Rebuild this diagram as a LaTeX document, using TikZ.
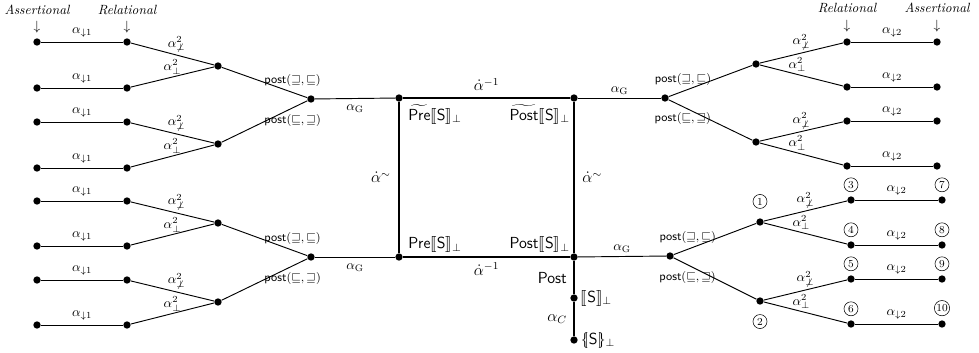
\documentclass[tikz,border=0pt]{standalone}
\usepackage{amsmath,amssymb,stmaryrd}
\usetikzlibrary{calc}
\newcommand{\npp}{\not\perp}
\newcommand{\sem}{\llbracket\mathsf{S}\rrbracket_{\perp}}
\begin{document}
\begin{tikzpicture}[x=0.75pt,y=-0.75pt,
  dot/.style={circle,fill,inner sep=0pt,minimum size=5.5pt},
  edge/.style={line width=0.7pt},
  sq/.style={line width=2pt},
  lab/.style={font=\normalsize,inner sep=1.5pt},
  plab/.style={font=\small,inner sep=2pt},
  big/.style={font=\large},
  circnum/.style={circle,draw,inner sep=0.5pt,minimum size=10.5pt,font=\footnotesize},
  hdr/.style={font=\itshape,inner sep=0pt}]
\useasboundingbox (0,0) rectangle (979,353);
% ---------- left top tree
\foreach \i/\y in {1/42,2/88,3/122,4/168}{
  \node[dot] (LA\i) at (37,\y) {};
  \node[dot] (LR\i) at (127,\y) {};
}
\node[dot] (LM1) at (218,66) {};
\node[dot] (LM2) at (218,144) {};
\node[dot] (LT) at (311,99) {};
% ---------- left bottom tree
\foreach \i/\y in {5/201,6/246,7/280,8/325}{
  \node[dot] (LA\i) at (37,\y) {};
  \node[dot] (LR\i) at (127,\y) {};
}
\node[dot] (LM3) at (218,223) {};
\node[dot] (LM4) at (218,302) {};
\node[dot] (LB) at (311,257) {};
\foreach \i in {1,...,8}{
  \draw[edge] (LA\i) -- node[lab,above,yshift=2pt]{$\alpha_{\downarrow 1}$} (LR\i);
}
\foreach \a/\b/\m in {1/2/LM1,3/4/LM2,5/6/LM3,7/8/LM4}{
  \draw[edge] (LR\a) -- node[lab,above,pos=0.55]{$\alpha^{2}_{\npp}$} (\m);
  \draw[edge] (LR\b) -- node[lab,above,pos=0.5]{$\alpha^{2}_{\perp}$} (\m);
}
\draw[edge] (LM1) -- node[plab,above,pos=0.75,xshift=5pt]{$\mathsf{post}(\sqsupseteq,\sqsubseteq)$} (LT);
\draw[edge] (LM2) -- node[plab,below,pos=0.75,xshift=5pt]{$\mathsf{post}(\sqsubseteq,\sqsupseteq)$} (LT);
\draw[edge] (LM3) -- node[plab,above,pos=0.75,xshift=5pt]{$\mathsf{post}(\sqsupseteq,\sqsubseteq)$} (LB);
\draw[edge] (LM4) -- node[plab,below,pos=0.75,xshift=5pt]{$\mathsf{post}(\sqsubseteq,\sqsupseteq)$} (LB);
% headers left
\node[hdr] (hA) at (37,10) {Assertional};
\node[inner sep=0pt] (hAa) at (37,27) {$\downarrow$};
\node[hdr] (hR) at (127,10) {Relational};
\node[inner sep=0pt] (hRa) at (127,27) {$\downarrow$};
% ---------- square
\node[dot] (TL) at (399,98) {};
\node[dot] (TR) at (574,98) {};
\node[dot] (BL) at (399,257) {};
\node[dot] (BR) at (574,257) {};
\draw[sq] (TL) -- node[big,above=1pt]{$\dot{\alpha}^{-1}$} (TR);
\draw[sq] (BL) -- node[big,below=0pt]{$\dot{\alpha}^{-1}$} (BR);
\draw[sq] (TL) -- node[big,left=2pt]{$\dot{\alpha}^{\sim}$} (BL);
\draw[sq] (TR) -- node[big,right=2pt]{$\dot{\alpha}^{\sim}$} (BR);
\node[big,anchor=north west,inner sep=0pt] (tPre) at (408,104) {$\widetilde{\mathsf{Pre}}\sem$};
\node[big,anchor=north east,inner sep=0pt] (tPost) at (570,104) {$\widetilde{\mathsf{Post}}\sem$};
\node[big,anchor=south west,inner sep=0pt] (Pre) at (408,253) {$\mathsf{Pre}\sem$};
\node[big,anchor=south east,inner sep=0pt] (Post) at (570,253) {$\mathsf{Post}\sem$};
\draw[edge] (LT) -- node[lab,below=3pt]{$\alpha_{\mathrm{G}}$} (TL);
\draw[edge] (LB) -- node[lab,below=3pt]{$\alpha_{\mathrm{G}}$} (BL);
% post drop
\node[dot] (P1) at (574,298) {};
\node[dot] (P2) at (574,340) {};
\draw[sq] (BR) -- node[big,left=1pt]{$\mathsf{Post}$} (P1);
\draw[sq] (P1) -- node[big,left=1pt]{$\alpha_C$} (P2);
\node[big,anchor=west,inner sep=2pt] (P1l) at (P1.east) {$\sem$};
\node[big,anchor=west,inner sep=2pt] (P2l) at (P2.east) {$\{\mkern-5mu|\mathsf{S}|\mkern-5mu\}_{\perp}$};
% ---------- right top tree
\node[dot] (RT) at (665,98) {};
\node[dot] (RM1) at (756,64) {};
\node[dot] (RM2) at (756,142) {};
\foreach \i/\y in {1/42,2/87,3/121,4/166}{
  \node[dot] (RR\i) at (847,\y) {};
  \node[dot] (RA\i) at (937,\y) {};
}
% ---------- right bottom tree
\node[dot] (RB) at (670,256) {};
\node[dot,label={[circnum,label distance=7pt]above:1}] (RM3) at (760,222) {};
\node[dot,label={[circnum,label distance=7pt]below:2}] (RM4) at (760,301) {};
\foreach \i/\y/\n/\m in {5/200/3/7,6/245/4/8,7/279/5/9,8/324/6/10}{
  \node[dot,label={[circnum,label distance=3pt]above:\n}] (RR\i) at (851,\y) {};
  \node[dot,label={[circnum,label distance=3pt]above:\m}] (RA\i) at (942,\y) {};
}
\foreach \i in {1,...,8}{
  \draw[edge] (RR\i) -- node[lab,above,yshift=2pt]{$\alpha_{\downarrow 2}$} (RA\i);
}
\foreach \a/\b/\m in {1/2/RM1,3/4/RM2,5/6/RM3,7/8/RM4}{
  \draw[edge] (\m) -- node[lab,above,pos=0.5]{$\alpha^{2}_{\npp}$} (RR\a);
  \draw[edge] (\m) -- node[lab,above,pos=0.45]{$\alpha^{2}_{\perp}$} (RR\b);
}
\draw[edge] (RT) -- node[plab,above,pos=0.25,xshift=-5pt]{$\mathsf{post}(\sqsupseteq,\sqsubseteq)$} (RM1);
\draw[edge] (RT) -- node[plab,below,pos=0.25,xshift=-5pt]{$\mathsf{post}(\sqsubseteq,\sqsupseteq)$} (RM2);
\draw[edge] (RB) -- node[plab,above,pos=0.25,xshift=-5pt]{$\mathsf{post}(\sqsupseteq,\sqsubseteq)$} (RM3);
\draw[edge] (RB) -- node[plab,below,pos=0.25,xshift=-5pt]{$\mathsf{post}(\sqsubseteq,\sqsupseteq)$} (RM4);
\draw[edge] (TR) -- node[lab,above=1pt]{$\alpha_{\mathrm{G}}$} (RT);
\draw[edge] (BR) -- node[lab,above=1pt]{$\alpha_{\mathrm{G}}$} (RB);
% headers right
\node[hdr] (hR2) at (847,8) {Relational};
\node[inner sep=0pt] (hR2a) at (847,26) {$\downarrow$};
\node[hdr] (hA2) at (937,8) {Assertional};
\node[inner sep=0pt] (hA2a) at (937,26) {$\downarrow$};
\end{tikzpicture}
\end{document}
